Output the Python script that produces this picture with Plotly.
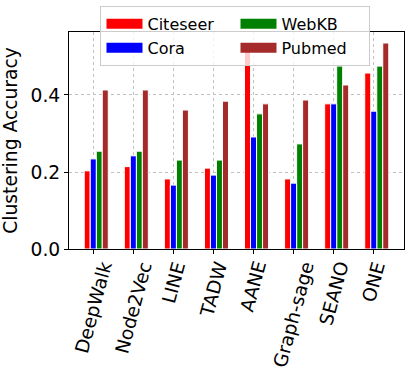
import plotly.graph_objects as go

methods = ["DeepWalk", "Node2Vec", "LINE", "TADW", "AANE", "Graph-sage", "SEANO", "ONE"]
citeseer = [0.203, 0.214, 0.182, 0.210, 0.514, 0.182, 0.377, 0.457]
cora = [0.234, 0.242, 0.166, 0.192, 0.291, 0.171, 0.377, 0.358]
webkb = [0.254, 0.254, 0.231, 0.231, 0.351, 0.273, 0.475, 0.475]
pubmed = [0.413, 0.413, 0.361, 0.384, 0.377, 0.387, 0.426, 0.535]

# (name, values, colour, offset from tick) -- legend fills row by row, so WebKB goes second
series = [
    ("Citeseer", citeseer, "#ff0000", -0.15),
    ("WebKB", webkb, "#008000", 0.15),
    ("Cora", cora, "#0000ff", 0.0),
    ("Pubmed", pubmed, "#a52a2a", 0.30),
]

font = "DejaVu Sans, sans-serif"

fig = go.Figure()
for name, vals, color, off in series:
    fig.add_trace(go.Bar(
        x=[i + off for i in range(len(methods))],
        y=vals,
        name=name,
        width=0.15,
        showlegend=False,
        marker=dict(color=color, line=dict(color="white", width=1)),
    ))
    # legend-only entry so the key shows a wide patch like matplotlib's
    fig.add_trace(go.Scatter(
        x=[None], y=[None], mode="lines", name=name,
        line=dict(color=color, width=11),
    ))

# rotated category labels, box centred under each tick (matplotlib style)
for i, m in enumerate(methods):
    fig.add_annotation(
        x=i, xref="x", y=-0.035, yref="paper",
        text=m, textangle=-75, showarrow=False,
        xanchor="center", yanchor="top",
        font=dict(size=18.7, family=font, color="black"),
    )

fig.update_layout(
    width=414, height=381,
    margin=dict(l=69, r=10, t=32, b=132, autoexpand=False),
    plot_bgcolor="white", paper_bgcolor="white",
    font=dict(family=font, color="black"),
    barmode="overlay",
    showlegend=True,
    legend=dict(
        orientation="h", x=0.497, xanchor="center", y=1.12, yanchor="top",
        font=dict(size=16, family=font), entrywidth=83, itemwidth=36,
        bgcolor="rgba(255,255,255,0.8)", bordercolor="#cccccc", borderwidth=1,
        traceorder="normal",
    ),
)
fig.update_xaxes(
    range=[-0.605, 7.755], automargin=False,
    tickvals=list(range(len(methods))), showticklabels=False,
    showline=True, linecolor="black", linewidth=1, mirror=True,
    ticks="outside", ticklen=4, tickcolor="black",
    showgrid=True, gridcolor="#c0c0c0", griddash="dot", gridwidth=1,
    zeroline=False,
)
fig.update_yaxes(
    range=[0, 0.5636], automargin=False,
    tickvals=[0.0, 0.2, 0.4], ticktext=["0.0", "0.2", "0.4"],
    tickfont=dict(size=18.7, family=font),
    title=dict(text="Clustering Accuracy", font=dict(size=18.7, family=font), standoff=8),
    showline=True, linecolor="black", linewidth=1, mirror=True,
    ticks="outside", ticklen=4, tickcolor="black",
    showgrid=True, gridcolor="#c0c0c0", griddash="dot", gridwidth=1,
    zeroline=False,
)

# the page body has an 8px default margin; drop it so the figure fills the window
fig.write_html("out.html", config={"displayModeBar": False},
               post_script="document.body.style.margin='0';")
